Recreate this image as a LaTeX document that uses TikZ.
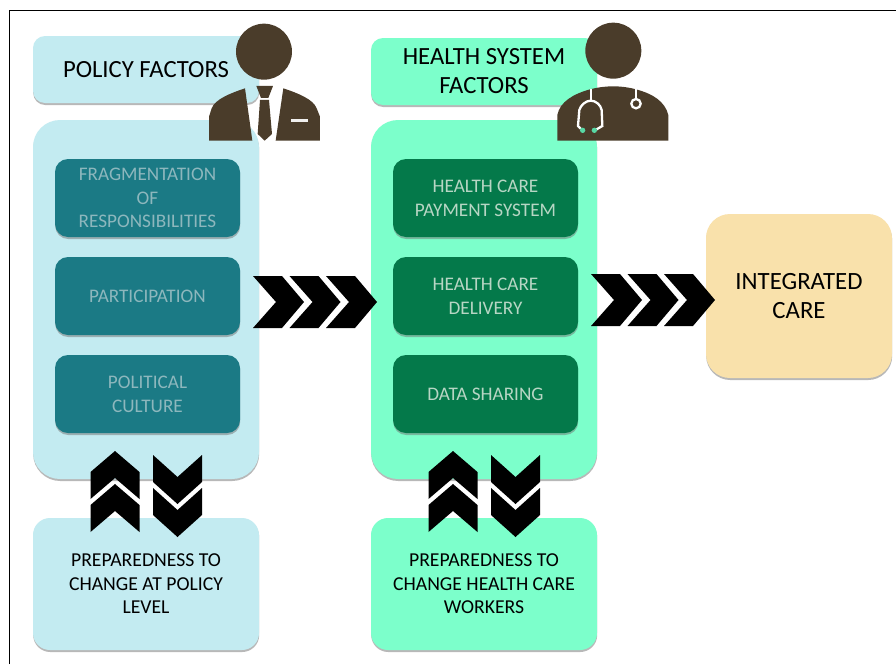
\documentclass[tikz,border=0pt]{standalone}
\usepackage{fontspec}
\setmainfont{Carlito}
\usetikzlibrary{shadows}
\definecolor{paleblue}{HTML}{C3EBF1}
\definecolor{mint}{HTML}{7CFFCB}
\definecolor{tealbox}{HTML}{1B7A85}
\definecolor{greenbox}{HTML}{04794A}
\definecolor{sand}{HTML}{F9E1AB}
\definecolor{brownicon}{HTML}{4A3C2A}
\definecolor{tealtext}{HTML}{8DB7BD}
\definecolor{greentext}{HTML}{B7D6C4}
\tikzset{
  card/.style={rounded corners=#1,align=center,inner sep=0pt,text=black,
    drop shadow={shadow xshift=0.2pt,shadow yshift=-2pt,opacity=.5,fill=black!55}},
  card/.default=17pt,
  titlecard/.style={card=12pt,minimum width=226pt,minimum height=67pt,font=\fontsize{24.7}{29}\selectfont},
  panel/.style={card=27pt,minimum width=226pt,minimum height=359pt},
  footcard/.style={card=17pt,minimum width=226pt,minimum height=132pt,font=\fontsize{19.7}{23.5}\selectfont},
  innercard/.style={card=13pt,minimum width=185pt,minimum height=78pt,font=\fontsize{19.2}{23.7}\selectfont},
}
\newcommand{\hchev}[2]{\fill[black] (#1,#2-26) -- (#1+29,#2-26) -- (#1+51,#2) -- (#1+29,#2+26) -- (#1,#2+26) -- (#1+23,#2) -- cycle;}
\newcommand{\upchev}[2]{\fill[black] (#1,#2) -- (#1+24.5,#2-21) -- (#1+49,#2) -- (#1+49,#2+27) -- (#1+24.5,#2+6) -- (#1,#2+27) -- cycle;}
\newcommand{\downchev}[2]{\fill[black] (#1,#2) -- (#1+24.5,#2+22) -- (#1+49,#2) -- (#1+49,#2+27) -- (#1+24.5,#2+49) -- (#1,#2+27) -- cycle;}
\begin{document}
\begin{tikzpicture}[x=1pt,y=-1pt]
\useasboundingbox (0,0) rectangle (896,664);
\fill[white] (0,0) rectangle (896,664);
\draw[black,line width=0.9pt] (9,664) -- (9,10) -- (896,10);

% left column
\node[titlecard,fill=paleblue] (ptitle) at (146,69.5) {POLICY FACTORS};
\node[panel,fill=paleblue] (ppanel) at (146,299.5) {};
\node[innercard,fill=tealbox,text=tealtext] (p1) at (147.5,198) {FRAGMENTATION\\OF\\RESPONSIBILITIES};
\node[innercard,fill=tealbox,text=tealtext] (p2) at (147.5,296) {PARTICIPATION};
\node[innercard,fill=tealbox,text=tealtext] (p3) at (147.5,394) {POLITICAL\\CULTURE};
\node[footcard,fill=paleblue] (pfoot) at (146,584) {PREPAREDNESS TO\\CHANGE AT POLICY\\LEVEL};

% middle column
\node[titlecard,fill=mint] (htitle) at (484,71.5) {HEALTH SYSTEM\\FACTORS};
\node[panel,fill=mint] (hpanel) at (484,299.5) {};
\node[innercard,fill=greenbox,text=greentext] (h1) at (485.5,198) {HEALTH CARE\\PAYMENT SYSTEM};
\node[innercard,fill=greenbox,text=greentext] (h2) at (485.5,296) {HEALTH CARE\\DELIVERY};
\node[innercard,fill=greenbox,text=greentext] (h3) at (485.5,394) {DATA SHARING};
\node[footcard,fill=mint] (hfoot) at (484,584) {PREPAREDNESS TO\\CHANGE HEALTH CARE\\WORKERS};

% outcome
\node[card=24pt,fill=sand,minimum width=186pt,minimum height=164pt,font=\fontsize{24.8}{29}\selectfont] (out) at (799,296) {INTEGRATED\\CARE};

% horizontal chevrons
\hchev{253}{302}\hchev{289.5}{302}\hchev{326}{302}
\hchev{591}{300}\hchev{627.5}{300}\hchev{664}{300}

% vertical chevrons
\upchev{90.5}{472}\upchev{90.5}{505}
\downchev{153}{455}\downchev{153}{488}
\upchev{428.5}{472}\upchev{428.5}{505}
\downchev{491}{455}\downchev{491}{488}

% policy maker icon
\begin{scope}[shift={(200,10)},x=0.3333pt,y=-0.3333pt]
  \fill[brownicon] (192,125) circle (84);
  \fill[brownicon] (135,235) .. controls (90,250) and (45,268) .. (35,295) -- (27,320) -- (27,392) -- (157,392) -- cycle;
  \fill[brownicon] (250,235) .. controls (295,250) and (340,268) .. (350,295) -- (360,320) -- (360,392) -- (227,392) -- cycle;
  \fill[brownicon] (169,228) -- (219,228) -- (205,264) -- (183,264) -- cycle;
  \fill[brownicon] (180,270) -- (207,270) -- (216,372) -- (194,392) -- (173,372) -- cycle;
  \fill[white!92!brownicon] (272,326) -- (325,326) -- (325,335) -- (272,335) -- cycle;
\end{scope}

% doctor icon
\begin{scope}[shift={(550,10)},x=0.3333pt,y=-0.3333pt]
  \fill[brownicon] (190,122) circle (84);
  \fill[brownicon] (22,392) -- (22,315) .. controls (30,275) and (70,252) .. (120,238) .. controls (165,226) and (215,226) .. (258,238) .. controls (310,252) and (345,275) .. (355,315) -- (355,392) -- cycle;
  \draw[white,line width=2.3pt] (122,238) -- (122,272);
  \draw[white,line width=2.3pt] (92,356) -- (84,348) -- (88,300) .. controls (92,285) and (108,272) .. (122,272) .. controls (138,272) and (152,285) .. (155,300) -- (157,348) -- (140,358);
  \fill[mint!70!greenbox] (98,361) circle (8);
  \fill[mint!70!greenbox] (133,361) circle (8);
  \draw[white,line width=2.3pt] (258,238) -- (258,265);
  \draw[white,line width=2.3pt] (258,281) circle (14);
\end{scope}
\end{tikzpicture}
\end{document}
